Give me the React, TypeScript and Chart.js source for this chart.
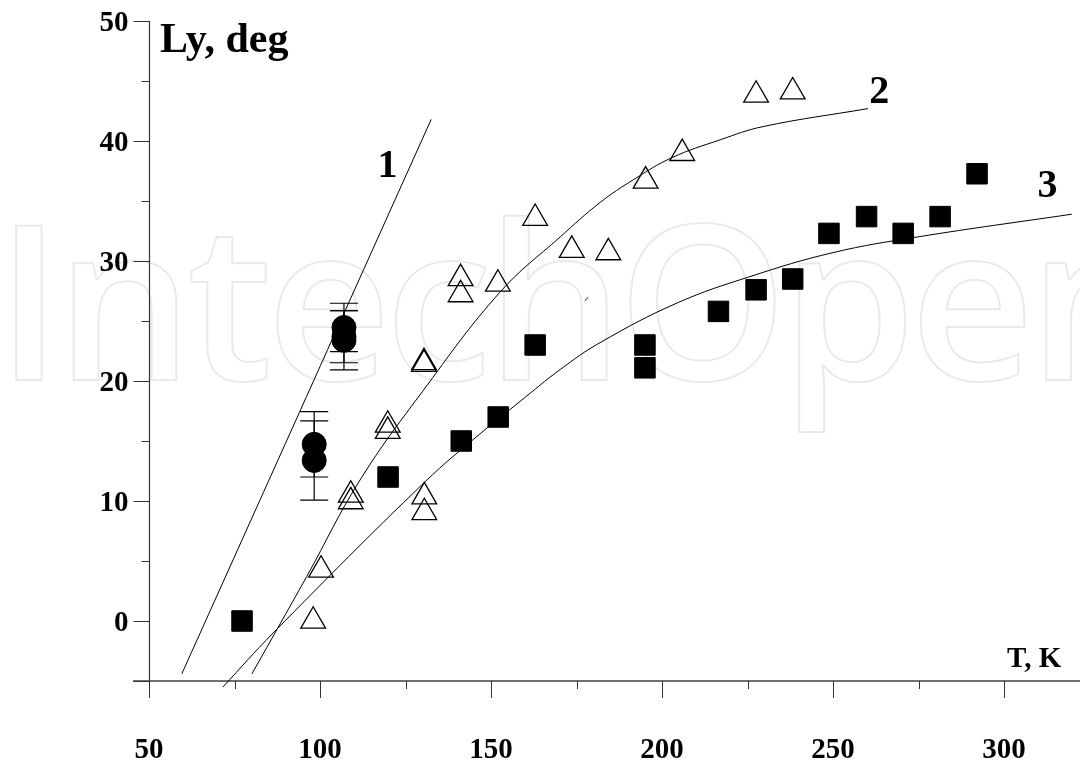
import React, { useEffect, useRef } from "react";
import { Chart, registerables } from "chart.js";

Chart.register(...registerables);

// Fitted curves (temperature T in K, angle Ly in degrees)
const curve1T = [59.6, 132.5];
const curve1Ly = [-4.4, 41.8];

const curve2T = [80.1, 96.1, 111.7, 129.9, 152.6, 170.2, 182, 191.5, 202.8, 217, 229.5, 260.2];
const curve2Ly = [-4.4, 3.7, 11.75, 19.1, 27.4, 32.0, 34.9, 36.75, 38.6, 40.1, 41.2, 42.7];

const curve3T = [71.6, 86.3, 130.7, 146.8, 158.5, 170.2, 181.9, 204.4, 225.7, 250, 274.6, 319.8];
const curve3Ly = [-5.5, -1.0, 11.6, 15.6, 18.3, 20.95, 23.2, 26.5, 28.7, 30.7, 32.0, 33.9];

// short stray stroke between the curves
const strokeT = [177.4, 178.4];
const strokeLy = [26.69, 26.97];

// Open triangles
const triT = [98.0, 100.3, 109.0, 109.0, 130.5, 130.5, 119.8, 119.8, 130.4, 130.4, 141.1, 141.1, 152.0, 162.9, 173.6, 184.3, 195.2, 205.9, 227.5, 238.2];
const triLy = [0.0, 4.25, 10.5, 9.95, 10.36, 9.04, 16.33, 15.82, 21.55, 21.4, 28.55, 27.2, 28.08, 33.56, 30.9, 30.7, 36.67, 38.97, 43.83, 44.1];

// Filled squares
const sqT = [77.2, 119.9, 141.3, 152.1, 162.9, 195.0, 195.0, 216.5, 227.5, 238.2, 248.8, 259.8, 270.5, 281.3, 292.1];
const sqLy = [0.0, 12.0, 15.0, 17.0, 23.0, 23.0, 21.1, 25.8, 27.6, 28.5, 32.3, 33.7, 32.3, 33.7, 37.27];

// Filled circles with error bars
const circT = [98.3, 98.3, 107.0, 107.0, 107.0];
const circLy = [14.72, 13.38, 24.46, 23.39, 23.69];
const circErr = [2.72, 3.3, 2.02, 2.47, 2.17];

// Axis ranges and ticks
const xMin = 50;
const xMax = 322.2;
const xMajorTicks = [50, 100, 150, 200, 250, 300];
const xMinorTicks = [75, 125, 175, 225, 275];
const yMin = -5;
const yMax = 50;
const yMajorTicks = [-5, 0, 10, 20, 30, 40, 50];
const yMinorTicks = [5, 15, 25, 35, 45];
const yTickLabels = ["", "0", "10", "20", "30", "40", "50"];
const xTickLabels = ["50", "100", "150", "200", "250", "300"];

// Curve numbers and their anchor points (T, Ly)
const curveNames = ["1", "2", "3"];
const curveNameT = [119.7, 263.5, 312.7];
const curveNameLy = [37.0, 43.2, 35.3];

const yTitle = "Ly, deg";
const xTitle = "T, K";
const watermark = "IntechOpen";

const SERIF = '"Liberation Serif", "Times New Roman", serif';

const pairs = (xs: number[], ys: number[]) => xs.map((x, i) => ({ x, y: ys[i] }));

const hline = (ctx: CanvasRenderingContext2D, x0: number, x1: number, y: number) => {
  ctx.beginPath();
  ctx.moveTo(x0, y);
  ctx.lineTo(x1, y);
  ctx.stroke();
};
const vline = (ctx: CanvasRenderingContext2D, x: number, y0: number, y1: number) => {
  ctx.beginPath();
  ctx.moveTo(x, y0);
  ctx.lineTo(x, y1);
  ctx.stroke();
};

const decorPlugin = {
  id: "decor",
  beforeDraw(chart: any) {
    const ctx = chart.ctx as CanvasRenderingContext2D;
    ctx.save();
    ctx.fillStyle = "#ffffff";
    ctx.fillRect(0, 0, chart.width, chart.height);
    ctx.font = '600 216px "Open Sans"';
    (ctx as any).letterSpacing = "-6px";
    ctx.strokeStyle = "rgba(0,0,0,0.085)";
    ctx.lineWidth = 2;
    ctx.textBaseline = "alphabetic";
    ctx.textAlign = "left";
    ctx.strokeText(watermark, -4, 380);
    ctx.restore();
  },
  beforeDatasetsDraw(chart: any) {
    const ctx = chart.ctx as CanvasRenderingContext2D;
    const xs = chart.scales.x;
    const ys = chart.scales.y;
    const area = chart.chartArea;
    const axisY = Math.round(ys.getPixelForValue(yMin));
    const axisX = Math.round(xs.getPixelForValue(xMin)) + 0.5;
    ctx.save();
    // axis lines
    ctx.strokeStyle = "#707070";
    ctx.lineWidth = 2;
    hline(ctx, area.left - 16, area.right, axisY);
    ctx.strokeStyle = "#333";
    ctx.lineWidth = 1.2;
    vline(ctx, axisX, area.top, axisY);
    // ticks
    ctx.lineWidth = 1;
    xMajorTicks.forEach((v) => vline(ctx, Math.round(xs.getPixelForValue(v)) + 0.5, axisY, axisY + 17));
    xMinorTicks.forEach((v) => vline(ctx, Math.round(xs.getPixelForValue(v)) + 0.5, axisY, axisY + 8));
    yMajorTicks.forEach((v) => hline(ctx, axisX - 16, axisX, Math.round(ys.getPixelForValue(v)) + 0.5));
    yMinorTicks.forEach((v) => hline(ctx, axisX - 8, axisX, Math.round(ys.getPixelForValue(v)) + 0.5));
    // tick labels
    ctx.fillStyle = "#000";
    ctx.font = `bold 29px ${SERIF}`;
    ctx.textBaseline = "alphabetic";
    ctx.textAlign = "center";
    xMajorTicks.forEach((v, i) => ctx.fillText(xTickLabels[i], xs.getPixelForValue(v), axisY + 77));
    ctx.textAlign = "right";
    yMajorTicks.forEach((v, i) => ctx.fillText(yTickLabels[i], axisX - 21, ys.getPixelForValue(v) + 10));
    ctx.restore();
  },
  afterDraw(chart: any) {
    const ctx = chart.ctx as CanvasRenderingContext2D;
    const xs = chart.scales.x;
    const ys = chart.scales.y;
    const area = chart.chartArea;
    ctx.save();
    // error bars
    ctx.strokeStyle = "#000";
    ctx.lineWidth = 1.2;
    circT.forEach((t, i) => {
      const px = xs.getPixelForValue(t);
      const top = ys.getPixelForValue(circLy[i] + circErr[i]);
      const bot = ys.getPixelForValue(circLy[i] - circErr[i]);
      ctx.beginPath();
      ctx.moveTo(px, top);
      ctx.lineTo(px, bot);
      ctx.moveTo(px - 14, top);
      ctx.lineTo(px + 14, top);
      ctx.moveTo(px - 14, bot);
      ctx.lineTo(px + 14, bot);
      ctx.stroke();
    });
    // curve numbers
    ctx.fillStyle = "#000";
    ctx.font = `bold 40px ${SERIF}`;
    ctx.textAlign = "center";
    ctx.textBaseline = "alphabetic";
    curveNames.forEach((s, i) => {
      ctx.fillText(s, xs.getPixelForValue(curveNameT[i]), ys.getPixelForValue(curveNameLy[i]));
    });
    // axis titles
    ctx.textAlign = "left";
    ctx.font = `bold 42px ${SERIF}`;
    ctx.fillText(yTitle, area.left + 11, area.top + 31);
    ctx.font = `bold 29px ${SERIF}`;
    ctx.fillText(xTitle, area.right - 73, area.bottom - 14);
    ctx.restore();
  },
};

export default function App() {
  const ref = useRef<HTMLCanvasElement>(null);

  useEffect(() => {
    const canvas = ref.current;
    if (!canvas) return;
    const lineBase = {
      showLine: true,
      borderColor: "#000",
      borderWidth: 1,
      pointRadius: 0,
      tension: 0.4,
      clip: false as const,
    };
    const chart = new Chart(canvas, {
      type: "scatter",
      data: {
        datasets: [
          { ...lineBase, label: "1", data: pairs(curve1T, curve1Ly) },
          { ...lineBase, label: "2", data: pairs(curve2T, curve2Ly) },
          { ...lineBase, label: "3", data: pairs(curve3T, curve3Ly) },
          { ...lineBase, label: "stroke", data: pairs(strokeT, strokeLy) },
          {
            label: "triangles",
            data: pairs(triT, triLy),
            pointStyle: "triangle",
            pointRadius: 14.3,
            borderColor: "#000",
            borderWidth: 1.3,
            backgroundColor: "rgba(0,0,0,0)",
            clip: false,
          },
          {
            label: "squares",
            data: pairs(sqT, sqLy),
            pointStyle: "rect",
            pointRadius: 14.5,
            borderColor: "#000",
            borderWidth: 1,
            backgroundColor: "#000",
            clip: false,
          },
          {
            label: "circles",
            data: pairs(circT, circLy),
            pointStyle: "circle",
            pointRadius: 12,
            borderColor: "#000",
            borderWidth: 1,
            backgroundColor: "#000",
            clip: false,
          },
        ] as any,
      },
      options: {
        animation: false,
        responsive: false,
        maintainAspectRatio: false,
        events: [],
        layout: { autoPadding: false, padding: { top: 21, right: 0, bottom: 81, left: 149 } },
        plugins: { legend: { display: false }, tooltip: { enabled: false } },
        scales: {
          x: { type: "linear", min: xMin, max: xMax, display: false },
          y: { type: "linear", min: yMin, max: yMax, display: false },
        },
      },
      plugins: [decorPlugin],
    });
    return () => chart.destroy();
  }, []);

  return (
    <div style={{ position: "absolute", left: 0, top: 0, width: 1080, height: 762, background: "#fff" }}>
      <canvas ref={ref} width={1080} height={762} style={{ display: "block", width: 1080, height: 762 }} />
    </div>
  );
}
